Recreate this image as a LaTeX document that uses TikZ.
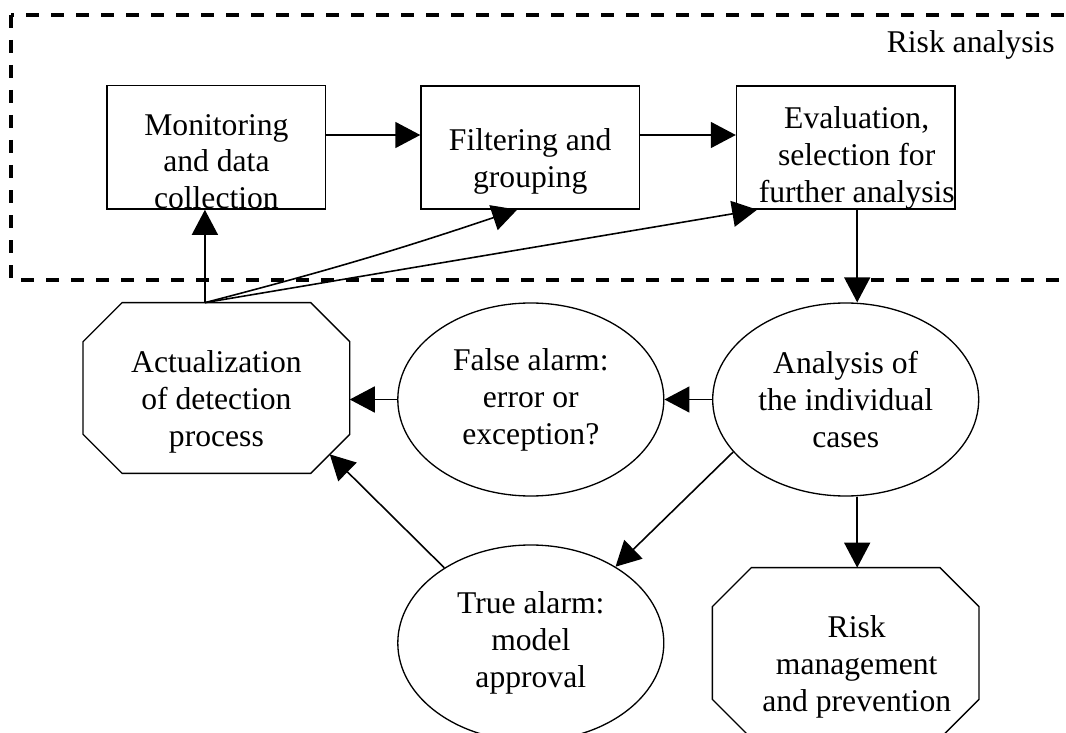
\documentclass[tikz,border=0pt]{standalone}
\usepackage{fontspec}
\setmainfont{Liberation Serif}
\usetikzlibrary{arrows.meta,positioning,shapes.geometric}
\newcommand{\lift}[1][28pt]{\rule{0pt}{#1}}
\newcommand{\sh}{\hspace*{4.4mm}}

\begin{document}
\begin{tikzpicture}[x=0.2mm,y=-0.2mm,font=\fontsize{18}{21}\selectfont]
\tikzstyle{arc}=[-{Triangle[length=5mm,width=5.2mm]},line width=0.9pt]
\tikzstyle{frame}=[line width=2pt,dash pattern=on 2.6mm off 2.4mm]
\tikzstyle{stage}=[rectangle,draw,line width=0.75pt,align=center,inner sep=0pt,minimum width=4.37cm,minimum height=2.46cm]
\tikzstyle{case}=[ellipse,draw,line width=0.75pt,align=center,inner sep=0pt,minimum width=5.32cm,minimum height=3.86cm]
\tikzstyle{action}=[rectangle,align=center,inner sep=0pt,minimum width=5.32cm,minimum height=3.4cm]
\useasboundingbox (0,0) rectangle (1066,733);
%% Risk analysis frame %%
\draw[frame] (11,15) rectangle (1110,280);
\node[anchor=base east,inner sep=0pt] at (1055,53) (L0) {Risk analysis};
%% TikZ-figure elements %%
\node[stage] at (216.4,147.5) (B1) {\lift Monitoring\\ and data\\ collection};
\node[stage] at (530.2,147.5) (B2) {\lift Filtering and\\ grouping};
\node[stage] at (845.7,147.5) (B3) {\lift[24pt]\sh Evaluation,\\ \sh selection for\\ \sh further analysis};
\node[case] at (845.7,399.5) (E1) {Analysis of\\ the individual\\ cases};
\node[case] at (530.8,399.5) (E2) {False alarm:\\ error or\\ exception?};
\node[case,minimum height=3.92cm] at (530.8,643) (E3) {True alarm:\\ model\\ approval};
\node[action] at (216.4,388) (O1) {\lift Actualization\\ of detection\\ process};
\node[action] at (845.7,653) (O2) {\lift\sh Risk\\ \sh management\\ \sh and prevention};
%% octagon outlines %%
\foreach \n in {O1,O2}
  \draw[line width=0.75pt] ([xshift=7.8mm]\n.north west) -- ([xshift=-7.8mm]\n.north east)
    -- ([yshift=-7.8mm]\n.north east) -- ([yshift=7.8mm]\n.south east)
    -- ([xshift=-7.8mm]\n.south east) -- ([xshift=7.8mm]\n.south west)
    -- ([yshift=7.8mm]\n.south west) -- ([yshift=-7.8mm]\n.north west) -- cycle;
\coordinate (C0) at ([xshift=-2.3mm]O1.north);
\draw[arc] ([yshift=2.5mm]B1.east) to[bend right=0] ([yshift=2.5mm]B2.west);
\draw[arc] ([yshift=2.5mm]B2.east) to[bend right=0] ([yshift=2.5mm]B3.west);
\draw[arc] ([xshift=2.3mm]B3.south) to[bend right=0] ([xshift=2.3mm]E1.north);
\draw[arc] (E1.west) to[bend right=0] (E2.east);
\draw[arc] (E2.west) to[bend right=0] (O1.east |- E2.west);
\draw[arc] (E1.205) to[bend right=0] (E3.42);
\draw[arc] (E3.139) to[bend right=0] ([xshift=-4mm,yshift=3.8mm]O1.south east);
\draw[arc] ([xshift=2.3mm]E1.south) to[bend right=0] ([xshift=2.3mm]O2.north);
\draw[arc] (C0) to[bend right=0] ([xshift=-2.3mm]B1.south);
\draw[arc] (C0) to[bend right=2] ([xshift=-2.6mm]B2.south);
\draw[arc] (C0) to[bend right=0] ([xshift=-17.7mm]B3.south);
\end{tikzpicture}
\end{document}
